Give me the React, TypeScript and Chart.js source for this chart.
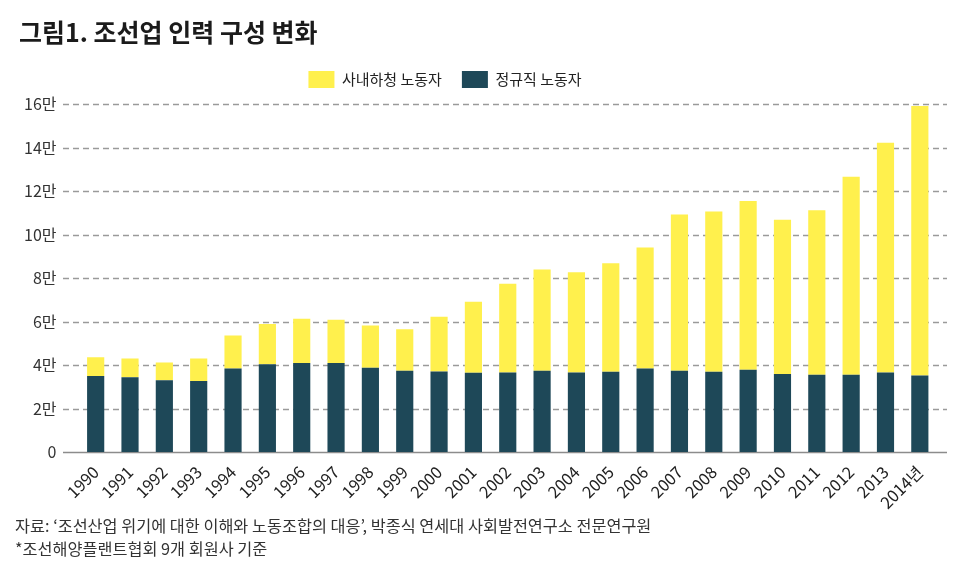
import React, { useEffect, useRef } from "react";
import { Chart, registerables } from "chart.js";

Chart.register(...registerables);

const years = ["1990","1991","1992","1993","1994","1995","1996","1997","1998","1999","2000","2001","2002","2003","2004","2005","2006","2007","2008","2009","2010","2011","2012","2013","2014년"];
const regular = [34900,34400,33000,32700,38400,40400,40900,40900,38700,37300,37000,36400,36500,37300,36500,36900,38400,37300,36900,37800,35900,35500,35500,36500,35200];
const subcontract = [8700,8600,8200,10300,15200,18400,20400,19900,19500,19100,25200,32700,40800,46600,46100,49900,55600,71900,73700,77600,70900,75700,91100,105700,123900];
const yTickLabels = ["0","2만","4만","6만","8만","10만","12만","14만","16만"];
const seriesNames = ["정규직 노동자", "사내하청 노동자"];
const seriesColors = ["#1E4858", "#FFF04D"];

const FONT = "'Noto Sans CJK KR', 'Noto Sans', sans-serif";

const gridPlugin = {
  id: "extendedGrid",
  beforeDatasetsDraw(chart: any) {
    const y = chart.scales.y;
    const ctx = chart.ctx;
    const x0 = 63;
    const x1 = 947;
    ctx.save();
    y.ticks.forEach((t: any) => {
      const py = Math.round(y.getPixelForValue(t.value)) + 0.5;
      ctx.beginPath();
      if (t.value === 0) {
        ctx.setLineDash([]);
        ctx.strokeStyle = "#8c8c8c";
        ctx.lineWidth = 1.5;
      } else {
        ctx.setLineDash([6, 4]);
        ctx.strokeStyle = "#9a9a9a";
        ctx.lineWidth = 1.3;
      }
      ctx.moveTo(x0, py);
      ctx.lineTo(x1, py);
      ctx.stroke();
    });
    ctx.restore();
  },
};

const legendShift = {
  id: "legendShift",
  afterLayout(chart: any) {
    const lg = chart.legend;
    if (!lg) return;
    const dx = 445 - (lg.left + lg.right) / 2;
    lg.left += dx;
    lg.right += dx;
    lg.top -= 6;
    lg.bottom -= 6;
  },
};

export default function App() {
  const ref = useRef<HTMLCanvasElement | null>(null);

  useEffect(() => {
    if (!ref.current) return;
    const chart = new Chart(ref.current, {
      type: "bar",
      data: {
        labels: years,
        datasets: [
          {
            label: seriesNames[0],
            data: regular,
            backgroundColor: seriesColors[0],
            borderWidth: 0,
            barPercentage: 0.5,
            categoryPercentage: 1,
          },
          {
            label: seriesNames[1],
            data: subcontract,
            backgroundColor: seriesColors[1],
            borderWidth: 0,
            barPercentage: 0.5,
            categoryPercentage: 1,
          },
        ],
      },
      options: {
        responsive: false,
        animation: false,
        devicePixelRatio: 1,
        layout: { padding: { left: 0, right: 33, top: 57, bottom: 0 } },
        plugins: {
          tooltip: { enabled: false },
          legend: {
            position: "top",
            labels: {
              boxWidth: 26,
              boxHeight: 17,
              padding: 20,
              color: "#222",
              font: { family: FONT, size: 15 },
              sort: (a: any, b: any) => b.datasetIndex - a.datasetIndex,
            },
          },
        },
        scales: {
          x: {
            stacked: true,
            grid: { display: false },
            border: { display: false },
            ticks: {
              color: "#222",
              font: { family: FONT, size: 16.5 },
              maxRotation: 45,
              minRotation: 45,
              padding: 2,
              autoSkip: false,
            },
            afterFit: (s: any) => {
              s.height = 118;
            },
          },
          y: {
            stacked: true,
            min: 0,
            max: 160000,
            grid: { display: false },
            border: { display: false },
            ticks: {
              stepSize: 20000,
              color: "#333",
              padding: 14,
              font: { family: FONT, size: 16 },
              callback: (_v: any, i: number) => yTickLabels[i],
            },
            afterFit: (s: any) => {
              s.width = 78.5;
            },
          },
        },
      },
      plugins: [gridPlugin, legendShift],
    });
    return () => chart.destroy();
  }, []);

  return (
    <div style={{ position: "absolute", left: 0, top: 0, width: 970, height: 570, background: "#fff", overflow: "hidden" }}>
      <canvas ref={ref} width={970} height={570} style={{ position: "absolute", left: 0, top: 0, display: "block" }} />
      <div style={{ position: "absolute", left: 19, top: 13, fontFamily: FONT, fontSize: 25, fontWeight: 700, lineHeight: "36px", color: "#1b1b1b", whiteSpace: "nowrap" }}>
        그림1. 조선업 인력 구성 변화
      </div>
      <div style={{ position: "absolute", left: 15, top: 514, fontFamily: FONT, fontSize: 16.3, lineHeight: "22px", color: "#333", whiteSpace: "nowrap" }}>
        자료: ‘조선산업 위기에 대한 이해와 노동조합의 대응’, 박종식 연세대 사회발전연구소 전문연구원
      </div>
      <div style={{ position: "absolute", left: 15, top: 537, fontFamily: FONT, fontSize: 16.3, lineHeight: "22px", color: "#333", whiteSpace: "nowrap" }}>
        *조선해양플랜트협회 9개 회원사 기준
      </div>
    </div>
  );
}
